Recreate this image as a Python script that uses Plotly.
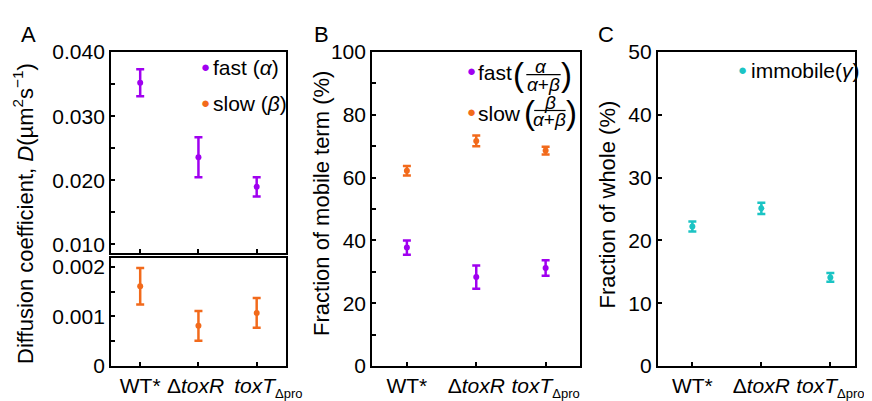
import plotly.graph_objects as go

# ---------------- data ----------------
SUB = '<sub><span style="font-size:13px">Δpro</span></sub>'
categories = ["WT*", "Δ<i>toxR</i>", "<i>toxT</i>" + SUB]

fast_D = [0.0352, 0.0236, 0.0190]
fast_D_err = [0.0021, 0.0031, 0.0015]
slow_D = [0.00161, 0.00081, 0.00107]
slow_D_err = [0.00037, 0.00030, 0.00030]

fast_frac = [37.7, 28.3, 31.2]
fast_frac_err = [2.3, 3.7, 2.5]
slow_frac = [62.2, 71.7, 68.6]
slow_frac_err = [1.5, 1.7, 1.2]

immobile_frac = [22.2, 25.1, 14.1]
immobile_frac_err = [0.8, 0.9, 0.7]

NB = "\u00a0"
tick_labels_A = [categories[0], categories[1] + NB, NB * 4 + categories[2]]

PURPLE = "#A000F0"
ORANGE = "#F26A1B"
CYAN = "#1BC4C4"

W, H = 872, 401
FONT = "Liberation Sans, Arial, sans-serif"
FS = 21
FT = 22
BULLET = 15


def px(x):
    return x / W


def py(y):
    return 1 - y / H


fig = go.Figure()


def add_series(x_ax, y_ax, y, err, color):
    fig.add_trace(go.Scatter(
        x=categories, y=y, mode="markers", xaxis=x_ax, yaxis=y_ax,
        marker=dict(color=color, size=6),
        error_y=dict(type="data", array=err, color=color, thickness=2.5, width=4),
        showlegend=False, hoverinfo="skip"))


add_series("x", "y", fast_D, fast_D_err, PURPLE)
add_series("x2", "y2", slow_D, slow_D_err, ORANGE)
add_series("x3", "y3", fast_frac, fast_frac_err, PURPLE)
add_series("x3", "y3", slow_frac, slow_frac_err, ORANGE)
add_series("x4", "y4", immobile_frac, immobile_frac_err, CYAN)

axis_common = dict(showline=True, linecolor="black", linewidth=2, mirror=True,
                   showgrid=False, zeroline=False, ticks="inside", ticklen=4,
                   tickwidth=1.5, tickcolor="black",
                   tickfont=dict(family=FONT, size=FS, color="black"))

xcommon = dict(axis_common, type="category", range=[-0.5, 2.5], tickangle=0)

minor_style = dict(ticks="inside", ticklen=4, tickwidth=1.5, tickcolor="black")

dA = [px(105), px(283)]
dB = [px(371), px(583)]
dC = [px(662), px(863)]

fig.update_layout(
    width=W, height=H, margin=dict(l=0, r=0, t=0, b=0),
    paper_bgcolor="white", plot_bgcolor="white",
    font=dict(family=FONT, size=FS, color="black"),
    xaxis=dict(xcommon, domain=dA, anchor="y", showticklabels=False),
    yaxis=dict(axis_common, domain=[py(247), py(34)], anchor="x",
               range=[0.0087, 0.040], dtick=0.01, tick0=0, tickformat=".3f",
               minor=dict(minor_style, dtick=0.005, tick0=0)),
    xaxis2=dict(xcommon, domain=dA, anchor="y2",
                tickvals=categories, ticktext=tick_labels_A),
    yaxis2=dict(axis_common, domain=[py(367), py(253)], anchor="x2",
                range=[0, 0.00217], tickvals=[0, 0.001, 0.002],
                ticktext=["0", "0.001", "0.002"],
                minor=dict(minor_style, tickvals=[0.0005, 0.0015])),
    xaxis3=dict(xcommon, domain=dB, anchor="y3"),
    yaxis3=dict(axis_common, domain=[py(367), py(34)], anchor="x3",
                range=[0, 100], dtick=20,
                minor=dict(minor_style, dtick=10)),
    xaxis4=dict(xcommon, domain=dC, anchor="y4", range=[-0.5, 2.36]),
    yaxis4=dict(axis_common, domain=[py(367), py(34)], anchor="x4",
                range=[0, 50], dtick=10),
)

ann = []


def text(x, y, s, size=FS, xanchor="center", yanchor="middle", color="black", angle=0):
    ann.append(dict(x=px(x), y=py(y), xref="paper", yref="paper", text=s,
                    showarrow=False, xanchor=xanchor, yanchor=yanchor,
                    textangle=angle,
                    font=dict(family=FONT, size=size, color=color)))


# panel letters
text(21, 15, "A", size=FT)
text(319, 15, "B", size=FT)
text(609, 15, "C", size=FT)

# axis titles
text(16, 205, "Diffusion coefficient, <i>D</i>(µm<sup>2</sup>s<sup>−1</sup>)", size=FT, angle=-90)
text(320, 195, "Fraction of mobile term (%)", size=FT, angle=-90)
text(611, 196, "Fraction of whole (%)", size=FT, angle=-90)

# legend A
text(201, 49, "●", size=BULLET, color=PURPLE)
text(207, 50, "fast (<i>α</i>)", xanchor="left")
text(201, 88, "●", size=BULLET, color=ORANGE)
text(207, 89, "slow (<i>β</i>)", xanchor="left")

# legend B
text(472, 54, "●", size=BULLET, color=PURPLE)
text(477, 56, "fast", xanchor="left")
text(520, 58, "(", size=33)
text(543, 49, "<i>α</i>", size=19)
text(545, 68, "<i>α</i>+<i>β</i>", size=19)
text(569, 58, ")", size=33)
text(472, 97, "●", size=BULLET, color=ORANGE)
text(477, 99, "slow", xanchor="left")
text(531, 98, "(", size=33)
text(552, 87, "<i>β</i>", size=19)
text(552, 106, "<i>α</i>+<i>β</i>", size=19)
text(574, 98, ")", size=33)

# legend C
text(748, 52, "●", size=BULLET, color=CYAN)
text(755, 54, "immobile(<i>γ</i>)", xanchor="left")

fig.update_layout(annotations=ann, shapes=[
    dict(type="line", xref="paper", yref="paper", x0=px(528), x1=px(563),
         y0=py(58), y1=py(58), line=dict(color="black", width=1.2)),
    dict(type="line", xref="paper", yref="paper", x0=px(536), x1=px(568),
         y0=py(96), y1=py(96), line=dict(color="black", width=1.2)),
])

fig.write_html("out.html")
